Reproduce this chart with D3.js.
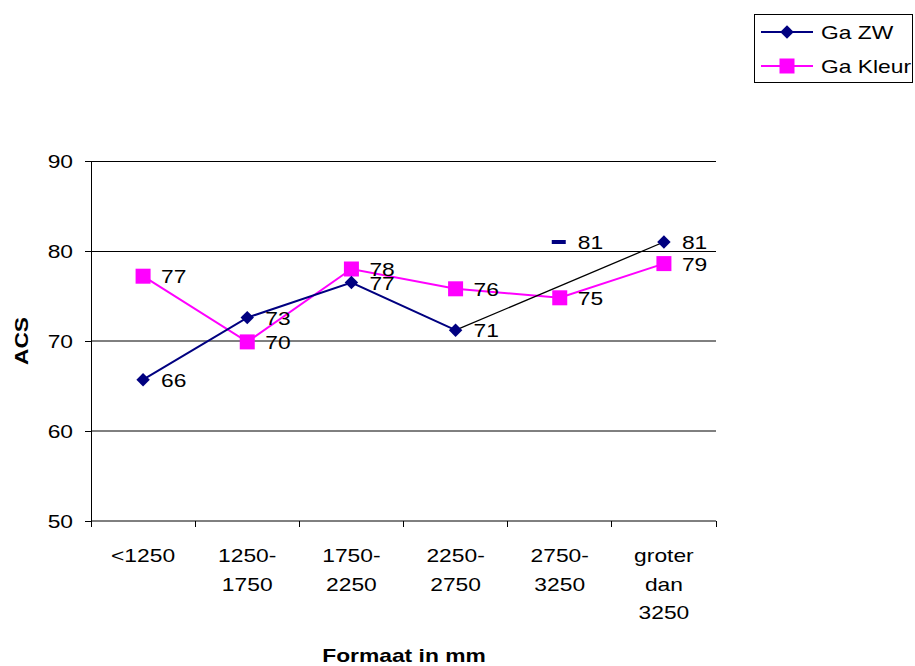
<!DOCTYPE html>
<html>
<head>
<meta charset="utf-8">
<script src="https://cdnjs.cloudflare.com/ajax/libs/d3/7.8.5/d3.min.js"></script>
<style>
  html, body { margin: 0; padding: 0; background: #fff; }
  svg { display: block; font-family: "Liberation Sans", Arial, sans-serif; }
</style>
</head>
<body>
<svg id="chart" width="915" height="666"></svg>
<script>
// Format classes (mm) and the ACS score per series
const categories = ["<1250", "1250-1750", "1750-2250", "2250-2750", "2750-3250", "groter dan 3250"];
const categoryLines = [["<1250"], ["1250-", "1750"], ["1750-", "2250"], ["2250-", "2750"], ["2750-", "3250"], ["groter", "dan", "3250"]];
const zwValues = [65.7, 72.6, 76.5, 71.2, 81.0, 81.0];
const kleurValues = [77.2, 69.9, 78.0, 75.8, 74.8, 78.6];
const yTicks = [50, 60, 70, 80, 90];
const seriesNames = ["Ga ZW", "Ga Kleur"];

const FONT = 19;      // text size
const WIDEN = 1.2;    // horizontal widening of all text

const svg = d3.select("#chart");
const plot = { left: 91, right: 716, top: 161, bottom: 521 };

const x = d3.scaleBand().domain(categories).range([plot.left, plot.right]);
const y = d3.scaleLinear().domain([50, 90]).range([plot.bottom, plot.top]);
const cx = c => x(c) + x.bandwidth() / 2;

// stretch a text (or its tspans) horizontally
function widen(sel) {
  sel.each(function () {
    const el = d3.select(this);
    const spans = el.selectAll("tspan");
    const targets = spans.empty() ? [this] : spans.nodes();
    targets.forEach(n => {
      const w = n.getComputedTextLength();
      d3.select(n).attr("textLength", w * WIDEN).attr("lengthAdjust", "spacingAndGlyphs");
    });
  });
}

// Horizontal gridlines
svg.append("g").selectAll("line").data(yTicks.filter(t => t > 50)).join("line")
  .attr("x1", plot.left).attr("x2", plot.right)
  .attr("y1", d => d >= 80 ? y(d) + 0.5 : y(d)).attr("y2", d => d >= 80 ? y(d) + 0.5 : y(d))
  .attr("stroke", "#000").attr("stroke-width", 1);

// Y axis
const yAxis = svg.append("g").attr("transform", `translate(${plot.left},0)`)
  .call(d3.axisLeft(y).tickValues(yTicks).tickSize(6).tickPadding(12).tickFormat(d3.format("d")));
yAxis.select(".domain").attr("stroke", "#000").attr("shape-rendering", "crispEdges");
yAxis.selectAll(".tick line").attr("stroke", "#000").attr("shape-rendering", "crispEdges");
yAxis.selectAll(".tick text").attr("font-size", FONT).attr("fill", "#000")
  .attr("font-family", "Liberation Sans, Arial, sans-serif").call(widen);

// X axis: ticks at band boundaries
const xAxisG = svg.append("g");
xAxisG.append("line").attr("x1", plot.left).attr("x2", plot.right)
  .attr("y1", plot.bottom).attr("y2", plot.bottom).attr("stroke", "#000");
const bounds = categories.map(c => x(c)).concat([x(categories[categories.length - 1]) + x.bandwidth()]);
xAxisG.selectAll("line.tk").data(bounds).join("line").attr("class", "tk")
  .attr("x1", d => d).attr("x2", d => d)
  .attr("y1", plot.bottom).attr("y2", plot.bottom + 6)
  .attr("stroke", "#000").attr("shape-rendering", "crispEdges");
xAxisG.selectAll("text").data(categories).join("text")
  .attr("x", d => cx(d)).attr("y", 562)
  .attr("text-anchor", "middle").attr("font-size", FONT).attr("fill", "#000")
  .each(function (d, i) {
    d3.select(this).selectAll("tspan").data(categoryLines[i]).join("tspan")
      .attr("x", cx(d)).attr("dy", (t, j) => j === 0 ? 0 : 28.5).text(t => t);
  })
  .call(widen);

// Axis titles
svg.append("text").attr("x", 404).attr("y", 662).attr("text-anchor", "middle")
  .attr("font-size", FONT).attr("font-weight", "bold").text("Formaat in mm").call(widen);
svg.append("text").attr("transform", `translate(28,${(plot.top + plot.bottom) / 2}) rotate(-90)`)
  .attr("text-anchor", "middle").attr("font-size", FONT).attr("font-weight", "bold").text("ACS").call(widen);

const navy = "#000080", magenta = "#FF00FF";
const line = d3.line().x(d => cx(d.c)).y(d => y(d.v));
const zw = categories.map((c, i) => ({ c, v: zwValues[i], i }));
const kl = categories.map((c, i) => ({ c, v: kleurValues[i], i }));

// Ga Kleur line
svg.append("path").datum(kl).attr("d", line).attr("fill", "none")
  .attr("stroke", magenta).attr("stroke-width", 2);

// Ga ZW: navy line over the first four classes, thin black connector to the last class
svg.append("path").datum(zw.slice(0, 4)).attr("d", line).attr("fill", "none")
  .attr("stroke", navy).attr("stroke-width", 2);
svg.append("path").datum([zw[3], zw[5]]).attr("d", line).attr("fill", "none")
  .attr("stroke", "#000").attr("stroke-width", 1.3);

// Ga Kleur markers
svg.append("g").selectAll("rect").data(kl).join("rect")
  .attr("x", d => cx(d.c) - 7.5).attr("y", d => y(d.v) - 7.5)
  .attr("width", 15).attr("height", 15).attr("fill", magenta);

// Ga ZW markers
const diamond = d3.symbol().type(d3.symbolDiamond2).size(115);
svg.append("g").selectAll("path").data(zw.filter(d => d.i !== 4)).join("path")
  .attr("d", diamond).attr("transform", d => `translate(${cx(d.c)},${y(d.v)})`).attr("fill", navy);
// dash marker for the 2750-3250 class
svg.append("rect").datum(zw[4])
  .attr("x", d => cx(d.c) - 8).attr("y", d => y(d.v) - 2).attr("width", 14).attr("height", 4)
  .attr("fill", navy);

// Data labels
const labelG = svg.append("g").attr("font-size", FONT).attr("fill", "#000");
labelG.selectAll("text.kl").data(kl).join("text").attr("class", "kl")
  .attr("x", d => cx(d.c) + 18).attr("y", d => y(d.v) + 7).text(d => Math.round(d.v)).call(widen);
labelG.selectAll("text.zw").data(zw).join("text").attr("class", "zw")
  .attr("x", d => cx(d.c) + 18).attr("y", d => y(d.v) + 7).text(d => Math.round(d.v)).call(widen);

// Legend
const lg = svg.append("g");
lg.append("rect").attr("x", 754.5).attr("y", 14.5).attr("width", 158).attr("height", 68)
  .attr("fill", "#fff").attr("stroke", "#000");
const legendRows = [{ name: seriesNames[0], color: navy, y: 32, shape: "d" }, { name: seriesNames[1], color: magenta, y: 66, shape: "s" }];
legendRows.forEach(r => {
  lg.append("line").attr("x1", 761).attr("x2", 813).attr("y1", r.y).attr("y2", r.y)
    .attr("stroke", r.color).attr("stroke-width", 2);
  if (r.shape === "d") {
    lg.append("path").attr("d", diamond).attr("transform", `translate(787,${r.y})`).attr("fill", r.color);
  } else {
    lg.append("rect").attr("x", 779.5).attr("y", r.y - 7.5).attr("width", 15).attr("height", 15).attr("fill", r.color);
  }
  lg.append("text").attr("x", 821).attr("y", r.y + 7).attr("font-size", FONT).text(r.name).call(widen);
});
</script>
</body>
</html>
